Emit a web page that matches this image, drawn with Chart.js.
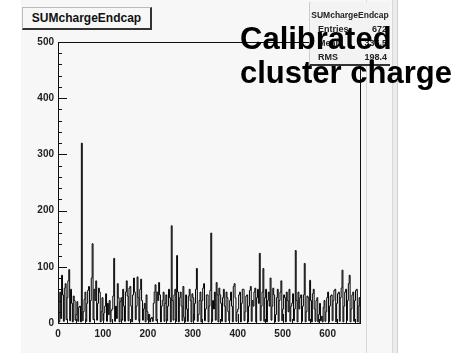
<!DOCTYPE html>
<html>
<head>
<meta charset="utf-8">
<script src="https://cdn.jsdelivr.net/npm/chart.js@4/dist/chart.umd.min.js"></script>
<style>
  html, body { margin: 0; padding: 0; background: #ffffff; }
  #wrap { position: relative; width: 459px; height: 353px; overflow: hidden; font-family: "Liberation Sans", Arial, sans-serif; }
  #panel { position: absolute; left: 21px; top: 0; width: 376px; height: 353px; background: #f7f7f7; border-right: 1px solid #cfcfcf; }
  #panelLine { position: absolute; left: 366px; top: 0; width: 1px; height: 353px; background: #d9d9d9; }
  #panelLine2 { position: absolute; left: 392px; top: 0; width: 4px; height: 353px; background: #ececec; border-left: 1px solid #dadada; }
  canvas { position: absolute; left: 0; top: 0; }
  #titleBox { position: absolute; left: 22px; top: 7px; width: 127px; height: 20px; background: #f7f7f7; border: 1px solid #bbb; border-right: 2px solid #333; border-bottom: 2px solid #333; font-size: 12px; font-weight: bold; color: #111; line-height: 20px; text-align: center; }
  #stats { position: absolute; left: 309px; top: 2px; width: 80px; height: 62px; background: #f3f3f3; border-left: 1px solid #ccc; border-bottom: 2px solid #333; font-size: 9px; color: #222; }
  #stats .t { position: absolute; left: 0; right: 0; top: 7px; height: 12px; line-height: 12px; text-align: center; font-size: 8.5px; font-weight: bold; }
  #stats .rows { position: absolute; left: 0; right: 0; top: 20px; }
  #stats .r { display: flex; justify-content: space-between; padding: 0 3px 0 8px; height: 14px; line-height: 14px; font-weight: bold; }
  #big { position: absolute; left: 240px; top: 22px; font-size: 31px; font-weight: bold; color: #000; line-height: 34px; white-space: nowrap; }
</style>
</head>
<body>
<div id="wrap">
  <div id="panel"></div>
  <div id="panelLine"></div>
  <div id="panelLine2"></div>
  <canvas id="c" width="459" height="353"></canvas>
  <div id="titleBox">SUMchargeEndcap</div>
  <div id="stats">
    <div class="t">SUMchargeEndcap</div>
    <div class="rows">
      <div class="r"><span>Entries</span><span>672</span></div>
      <div class="r"><span>Mean</span><span>335.5</span></div>
      <div class="r"><span>RMS</span><span>198.4</span></div>
    </div>
  </div>
  <div id="big">Calibrated<br>cluster charge</div>
</div>
<script>
// Histogram: SUMchargeEndcap, bins of width 2 over 0..672
const binWidth = 2;
const xMin = 0, xMax = 672;
const yMin = 0, yMax = 500;
const xTickLabels = [0, 100, 200, 300, 400, 500, 600];
const yTickLabels = [0, 100, 200, 300, 400, 500];
const binCounts = [
  5, 2, 55, 8, 85, 50, 3, 62, 70, 6, 45, 75, 95, 4, 60, 35, 2, 48, 40, 5,
  15, 38, 3, 28, 30, 2, 320, 4, 20, 42, 55, 3, 35, 58, 65, 2, 40, 80, 141, 6,
  60, 40, 75, 5, 35, 62, 55, 2, 20, 45, 4, 18, 30, 52, 3, 35, 15, 40, 2, 22,
  25, 48, 115, 3, 30, 8, 70, 45, 2, 38, 45, 5, 60, 30, 3, 55, 75, 48, 4, 62,
  65, 30, 2, 50, 80, 55, 6, 30, 82, 45, 3, 60, 78, 40, 5, 25, 35, 2, 50, 20,
  5, 15, 2, 8, 10, 3, 35, 55, 68, 4, 55, 40, 72, 50, 2, 30, 40, 55, 3, 35,
  50, 4, 30, 60, 45, 2, 173, 40, 5, 50, 60, 3, 120, 55, 2, 45, 55, 30, 4, 65,
  10, 2, 50, 25, 3, 48, 60, 40, 2, 52, 45, 5, 35, 60, 97, 3, 15, 40, 55, 2,
  40, 62, 70, 4, 25, 50, 50, 2, 30, 58, 160, 3, 40, 25, 55, 5, 72, 50, 2, 62,
  50, 35, 3, 45, 60, 30, 2, 55, 45, 20, 4, 40, 55, 30, 2, 65, 70, 45, 3, 20,
  25, 50, 55, 2, 35, 60, 60, 4, 20, 48, 50, 2, 30, 58, 65, 3, 40, 30, 55, 62,
  2, 45, 60, 35, 124, 4, 30, 55, 97, 3, 45, 60, 2, 40, 55, 30, 80, 5, 30, 62,
  50, 2, 15, 45, 60, 3, 40, 55, 75, 4, 25, 50, 45, 2, 55, 40, 20, 60, 3, 30,
  35, 52, 4, 25, 129, 40, 2, 55, 25, 45, 50, 3, 30, 50, 106, 2, 20, 48, 45, 4,
  76, 40, 2, 52, 60, 25, 3, 40, 45, 2, 15, 35, 4, 12, 2, 28, 40, 3, 20, 45,
  55, 2, 30, 48, 50, 4, 40, 58, 60, 2, 35, 52, 55, 3, 45, 62, 94, 2, 30, 55,
  60, 4, 40, 70, 85, 2, 25, 50, 55, 3, 40, 58, 60, 2, 30, 45
];

const pts = [{x: xMin, y: 0}];
binCounts.forEach((v, i) => pts.push({x: xMin + i * binWidth, y: v}));
pts.push({x: xMin + binCounts.length * binWidth, y: binCounts[binCounts.length - 1]});
pts.push({x: xMin + binCounts.length * binWidth, y: 0});

const frameAndTicks = {
  id: 'frameAndTicks',
  afterDraw(chart) {
    const {ctx, chartArea: a, scales: {x, y}} = chart;
    ctx.save();
    ctx.strokeStyle = '#111';
    ctx.lineWidth = 1;
    ctx.strokeRect(Math.round(a.left) + 0.5, Math.round(a.top) + 0.5, Math.round(a.right - a.left), Math.round(a.bottom - a.top));
    ctx.beginPath();
    for (let v = xMin; v <= xMax; v += 20) {
      const px = Math.round(x.getPixelForValue(v)) + 0.5;
      const len = (v % 100 === 0) ? 9 : 4;
      ctx.moveTo(px, a.bottom); ctx.lineTo(px, a.bottom - len);
    }
    for (let v = yMin; v <= yMax; v += 20) {
      const py = Math.round(y.getPixelForValue(v)) + 0.5;
      const len = (v % 100 === 0) ? 9 : 4;
      ctx.moveTo(a.left, py); ctx.lineTo(a.left + len, py);
    }
    ctx.stroke();
    ctx.restore();
  }
};

new Chart(document.getElementById('c'), {
  type: 'line',
  data: {
    datasets: [{
      data: pts,
      stepped: 'before',
      borderColor: '#000',
      borderWidth: 1,
      pointRadius: 0,
      fill: false,
      tension: 0
    }]
  },
  options: {
    responsive: false,
    animation: false,
    layout: { padding: { left: 0, right: 99, top: 42, bottom: 0 } },
    plugins: { legend: { display: false }, tooltip: { enabled: false }, title: { display: false } },
    scales: {
      x: {
        type: 'linear', min: xMin, max: xMax,
        afterFit(s) { s.height = 30; },
        afterBuildTicks(s) { s.ticks = xTickLabels.map(v => ({value: v})); },
        grid: { display: false, drawTicks: false },
        border: { display: false },
        ticks: { padding: 5, maxRotation: 0, autoSkip: false, color: '#222', font: { family: 'Liberation Sans', size: 10, weight: 'bold' } }
      },
      y: {
        type: 'linear', min: yMin, max: yMax,
        afterFit(s) { s.width = 58; },
        afterBuildTicks(s) { s.ticks = yTickLabels.map(v => ({value: v})); },
        grid: { display: false, drawTicks: false },
        border: { display: false },
        ticks: { padding: 4, color: '#222', font: { family: 'Liberation Sans', size: 10, weight: 'bold' } }
      }
    }
  },
  plugins: [frameAndTicks]
});
</script>
</body>
</html>
